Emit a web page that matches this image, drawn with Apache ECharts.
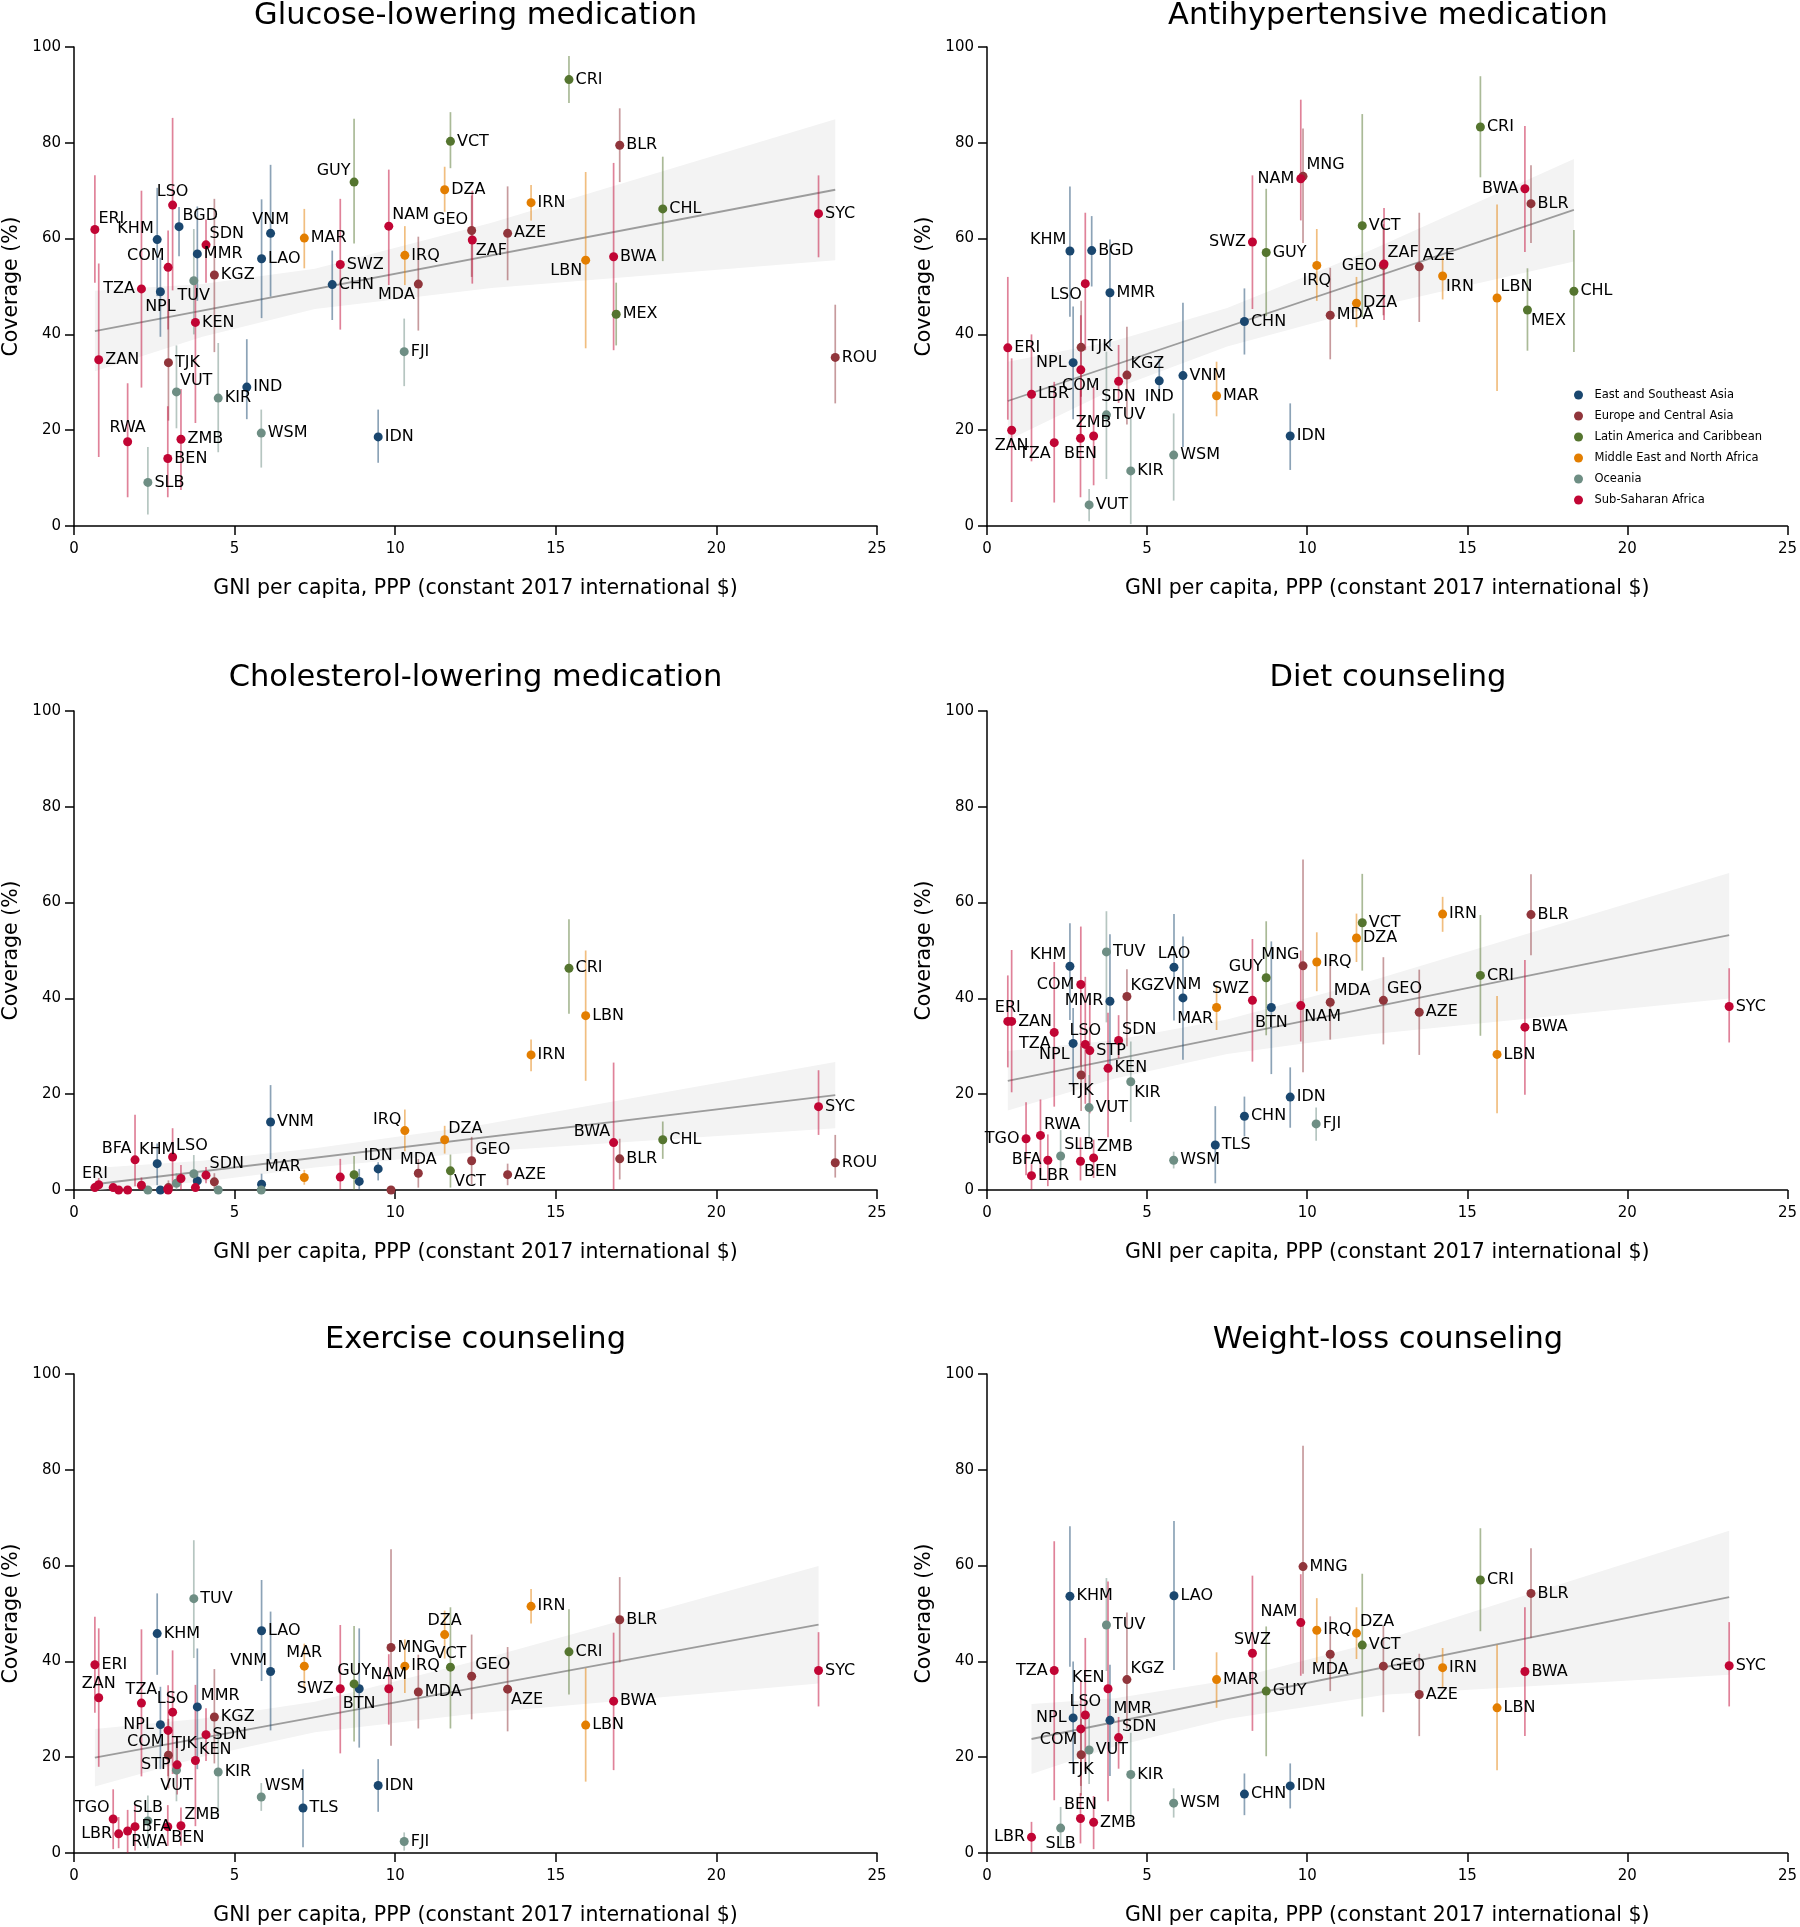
<!DOCTYPE html>
<html>
<head>
<meta charset="utf-8">
<script src="https://cdn.jsdelivr.net/npm/echarts@6/dist/echarts.min.js"></script>
<style>html,body{margin:0;padding:0;background:#fff}#c{width:1800px;height:1927px}</style>
</head>
<body>
<div id="c"></div>
<script>
// ---------- shared data ----------
const regions = ['East and Southeast Asia','Europe and Central Asia','Latin America and Caribbean','Middle East and North Africa','Oceania','Sub-Saharan Africa'];
const regionColors = ['#1a476f','#90353b','#55752f','#e37e00','#6e8e84','#c10534'];
const countryCodes = ['ERI','ZAN','TGO','LBR','RWA','BFA','TZA','SLB','KHM','NPL','BEN','COM','TJK','LSO','VUT','STP','BGD','ZMB','TUV','KEN','MMR','SDN','KGZ','KIR','IND','WSM','LAO','VNM','TLS','MAR','CHN','SWZ','GUY','BTN','IDN','NAM','MNG','FJI','IRQ','MDA','DZA','VCT','GEO','ZAF','AZE','IRN','CRI','LBN','BWA','MEX','BLR','CHL','SYC','ROU'];
const countryGni = [0.65,0.77,1.22,1.39,1.67,1.90,2.10,2.30,2.59,2.69,2.92,2.93,2.94,3.07,3.19,3.21,3.27,3.33,3.73,3.78,3.84,4.11,4.37,4.49,5.38,5.83,5.84,6.12,7.13,7.17,8.04,8.29,8.72,8.88,9.47,9.80,9.87,10.28,10.30,10.72,11.54,11.72,12.38,12.40,13.50,14.23,15.41,15.93,16.80,16.88,16.99,18.33,23.18,23.70];
const countryRegion = [5,5,5,5,5,5,5,4,0,0,5,5,1,5,4,5,0,5,4,5,0,5,1,4,0,4,0,0,0,3,0,5,2,0,0,5,1,4,3,1,3,2,1,5,1,3,2,3,5,2,1,2,5,1];
const titles = ['Glucose-lowering medication','Antihypertensive medication','Cholesterol-lowering medication','Diet counseling','Exercise counseling','Weight-loss counseling'];
const xTitle = 'GNI per capita, PPP (constant 2017 international $)';
const yTitle = 'Coverage (%)';

// ---------- panel 1: glucose-lowering ----------
const p1Codes = ['ERI','KHM','LSO','BGD','COM','TZA','NPL','MMR','SDN','KGZ','TUV','KEN','ZAN','TJK','VUT','KIR','IND','RWA','ZMB','BEN','SLB','WSM','IDN','VNM','LAO','MAR','GUY','CHN','SWZ','NAM','IRQ','MDA','FJI','DZA','GEO','ZAF','VCT','AZE','CRI','IRN','LBN','BWA','BLR','MEX','CHL','SYC','ROU'];
const p1Cov = [61.9,59.8,67.0,62.5,54.0,49.5,48.9,56.8,58.7,52.4,51.2,42.5,34.7,34.1,28.0,26.7,29.0,17.6,18.1,14.1,9.1,19.4,18.6,61.1,55.8,60.1,71.8,50.4,54.6,62.6,56.5,50.5,36.4,70.2,61.7,59.7,80.3,61.1,93.2,67.5,55.5,56.2,79.5,44.2,66.2,65.2,35.2];
const p1Lo = [50.8,48.0,49.2,56.3,41.0,28.9,39.5,47.0,50.8,36.3,40.0,21.5,14.4,22.0,20.4,15.4,22.3,6.0,7.5,6.0,2.4,12.2,13.2,47.9,43.4,53.8,59.0,43.0,41.0,50.3,50.3,40.8,29.2,65.6,52.0,50.6,74.7,51.3,88.3,63.8,37.1,36.7,71.8,37.7,55.3,56.1,25.6];
const p1Hi = [73.2,70.6,85.2,66.6,61.7,70.0,56.0,66.7,64.0,68.3,62.0,51.4,54.8,45.0,37.7,38.2,39.0,29.8,28.6,25.0,16.5,24.3,24.3,75.4,68.2,66.2,85.0,57.5,68.3,74.4,62.6,60.4,43.3,75.0,69.0,70.0,86.4,70.9,98.1,71.2,73.9,75.8,87.2,50.8,77.1,73.2,46.2];
const p1Lab = [1,11,12,1,11,9,6,3,1,3,6,3,3,3,1,3,3,12,3,3,3,3,3,12,3,3,11,3,3,1,3,7,3,3,11,5,3,3,3,3,7,3,3,3,3,3,3];
const p1LineX = [0.65,23.70], p1LineY = [40.7,70.2];
const p1BandX = [0.65,4,7.5,13,23.70], p1BandLo = [32.3,39.5,45.3,49.7,55.5], p1BandHi = [49.1,50.5,53.7,63.3,84.9];

// ---------- panel 2: antihypertensive ----------
const p2Codes = ['KHM','BGD','LSO','MMR','ERI','TJK','NPL','COM','KGZ','SDN','IND','VNM','MAR','LBR','ZAN','TZA','BEN','ZMB','TUV','KIR','WSM','VUT','IDN','CHN','SWZ','GUY','NAM','MNG','IRQ','MDA','DZA','VCT','GEO','ZAF','AZE','CRI','BWA','BLR','IRN','LBN','MEX','CHL'];
const p2Cov = [57.4,57.5,50.6,48.7,37.2,37.3,34.1,32.6,31.5,30.2,30.3,31.4,27.2,27.5,20.0,17.4,18.3,18.8,23.2,11.5,14.8,4.4,18.8,42.7,59.3,57.1,72.5,73.0,54.4,44.0,46.5,62.7,54.4,54.7,54.1,83.3,70.4,67.3,52.2,47.6,45.1,49.0];
const p2Lo = [43.7,50.0,36.7,37.4,22.2,27.0,22.3,19.0,21.2,25.7,26.0,16.5,22.9,13.5,5.0,4.9,6.0,8.5,9.8,0.4,5.3,1.0,11.7,35.8,45.3,43.8,63.8,59.1,47.0,34.8,41.5,43.6,44.0,43.0,42.6,72.8,57.2,59.1,47.3,28.2,36.6,36.3];
const p2Hi = [70.9,64.7,65.4,59.8,52.0,47.0,45.8,44.0,41.6,37.8,35.0,46.6,34.3,40.0,35.0,30.1,28.6,29.0,36.4,22.4,23.5,7.7,25.6,49.6,73.2,70.4,89.0,83.0,62.0,53.9,52.0,86.0,63.0,66.4,65.4,93.9,83.5,75.3,56.2,67.1,53.8,61.8];
const p2Lab = [11,3,7,3,3,3,9,6,1,6,6,3,3,3,6,7,6,12,3,3,3,3,3,3,9,3,9,1,6,3,3,3,9,1,1,3,9,3,5,1,5,3];
const p2LineX = [0.65,18.33], p2LineY = [26.1,66.0];
const p2BandX = [0.65,4,7.5,12,18.33], p2BandLo = [17.9,28.7,37.5,45.6,55.2], p2BandHi = [34.3,38.7,45.5,57.6,76.6];

// ---------- panel 3: cholesterol-lowering ----------
const p3Codes = ['ERI','ZAN','TGO','LBR','RWA','BFA','TZA','SLB','KHM','NPL','BEN','COM','TJK','VUT','LSO','ZMB','TUV','KEN','MMR','SDN','KGZ','KIR','LAO','WSM','VNM','MAR','SWZ','GUY','BTN','IDN','MNG','IRQ','MDA','DZA','VCT','GEO','AZE','IRN','CRI','LBN','BWA','BLR','CHL','SYC','ROU'];
const p3Cov = [0.5,1.1,0.5,0,0,6.3,1.0,0,5.5,0,0.2,0,0.5,1.4,6.9,2.4,3.4,0.5,1.9,3.1,1.7,0,1.2,0,14.2,2.6,2.7,3.2,1.8,4.4,0,12.4,3.5,10.5,4.0,6.1,3.2,28.2,46.3,36.4,9.9,6.5,10.5,17.4,5.7];
const p3Lo = [0,0,0,0,0,0.8,0,0,1.0,0,0,0,0,0,0.5,0,0.5,0,0.5,1.4,0.2,0,0.2,0,6.4,1.1,0.1,0,0,2.0,0,8.1,0.5,7.6,0.5,1.2,1.0,24.8,36.8,22.8,0,2.2,6.5,11.5,2.6];
const p3Hi = [1.5,2.5,1.2,0.5,0.5,15.7,2.6,0.3,9.7,0.3,1.0,0.5,2.0,3.5,12.9,5.2,7.3,1.5,3.5,4.8,3.5,0.3,3.4,0.3,21.9,4.2,6.5,7.1,4.4,5.8,0.3,16.8,6.5,13.4,7.4,11.1,5.5,31.4,56.5,50.0,26.6,10.7,14.3,25.0,11.5];
const p3Lab = [12,0,0,0,0,11,0,0,12,0,0,0,0,0,1,0,0,0,0,1,0,0,0,0,3,11,0,0,0,12,0,11,12,1,5,1,3,3,3,3,11,3,3,3,3];
const p3LineX = [0.65,23.70], p3LineY = [1.2,19.8];
const p3BandX = [0.65,4,7.5,12.62,23.70], p3BandLo = [0,1.7,4.7,8.0,12.9], p3BandHi = [4.6,6.1,8.7,13.5,26.7];

// ---------- panel 4: diet counseling ----------
const p4Codes = ['ERI','ZAN','KHM','COM','TUV','MMR','KGZ','LAO','VNM','TZA','NPL','LSO','STP','SDN','KEN','TJK','KIR','VUT','RWA','TGO','BFA','LBR','SLB','BEN','ZMB','WSM','TLS','CHN','IDN','FJI','MAR','SWZ','GUY','BTN','MNG','NAM','IRQ','MDA','DZA','VCT','GEO','AZE','IRN','BLR','CRI','BWA','LBN','SYC'];
const p4Cov = [35.2,35.2,46.7,42.9,49.7,39.4,40.4,46.5,40.1,32.9,30.6,30.4,29.1,31.2,25.4,24.0,22.6,17.2,11.4,10.7,6.2,3.0,7.1,6.0,6.7,6.2,9.4,15.4,19.4,13.8,38.1,39.6,44.3,38.1,46.8,38.5,47.6,39.2,52.6,55.8,39.6,37.1,57.6,57.5,44.8,34.0,28.3,38.3];
const p4Lo = [25.6,20.4,35.5,26.0,35.0,25.0,30.0,35.4,27.2,17.4,21.6,18.0,16.0,27.5,11.0,16.5,14.2,11.0,3.0,3.1,0.8,0.1,2.2,2.0,2.5,4.5,1.4,11.2,13.0,10.3,33.4,26.8,32.3,24.2,24.6,31.0,41.5,31.4,47.6,45.8,30.4,28.2,53.9,49.0,32.2,19.9,16.0,30.8];
const p4Hi = [44.8,50.1,55.7,55.0,58.2,53.4,46.1,57.6,52.9,47.6,38.0,44.5,40.0,36.5,37.0,30.0,31.0,24.0,18.9,18.3,11.6,5.4,12.5,11.0,10.5,8.0,17.5,19.5,25.6,17.2,42.8,52.4,56.1,51.9,69.0,50.0,53.8,48.5,57.7,66.0,48.6,46.0,61.2,65.9,57.4,48.0,40.5,46.3];
const p4Lab = [12,3,11,9,3,9,1,12,12,7,7,12,3,1,3,6,5,3,1,9,9,3,1,5,1,3,3,3,3,3,7,11,11,6,11,5,3,1,3,3,1,3,3,3,3,3,3,3];
const p4LineX = [0.65,23.18], p4LineY = [22.8,53.2];
const p4BandX = [0.65,4,7.5,12,23.18], p4BandLo = [16.6,23.3,28.4,32.5,40.0], p4BandHi = [29.0,31.3,35.6,43.7,66.2];

// ---------- panel 5: exercise counseling ----------
const p5Codes = ['TUV','KHM','LAO','VNM','MAR','ERI','ZAN','TZA','LSO','MMR','KGZ','NPL','COM','SDN','TJK','KEN','STP','VUT','KIR','WSM','TLS','IDN','FJI','TGO','LBR','RWA','BFA','SLB','BEN','ZMB','SWZ','GUY','BTN','MNG','NAM','IRQ','MDA','DZA','VCT','GEO','IRN','BLR','CRI','AZE','BWA','LBN','SYC'];
const p5Cov = [53.1,45.8,46.4,37.9,39.0,39.3,32.4,31.3,29.4,30.5,28.4,26.8,25.6,24.7,20.4,19.3,18.4,17.3,16.9,11.7,9.4,14.1,2.4,7.1,4.0,4.6,5.5,6.7,5.5,5.7,34.3,35.3,34.3,42.9,34.3,39.0,33.6,45.6,38.8,36.9,51.5,48.7,42.0,34.2,31.7,26.7,38.1];
const p5Lo = [40.7,37.2,35.9,25.6,34.1,29.3,18.0,16.0,16.5,17.5,18.7,17.5,16.0,19.2,13.5,5.6,12.2,10.8,7.7,8.8,1.2,8.6,0.5,0.8,1.0,0,0.5,1.0,1.5,1.5,20.8,23.3,22.0,22.4,26.8,33.4,26.0,40.6,26.0,27.9,47.9,39.8,33.1,25.4,17.3,14.9,30.6];
const p5Hi = [65.3,54.2,57.0,50.4,43.7,49.3,46.9,46.7,42.3,42.7,38.4,34.7,35.0,30.2,28.0,35.1,24.3,23.4,25.1,14.6,17.5,19.6,4.3,13.3,7.5,9.0,10.0,12.0,10.0,9.5,47.6,47.4,46.9,63.4,41.5,44.6,41.4,50.6,51.3,45.6,55.1,57.6,50.9,43.0,46.0,38.6,46.1];
const p5Lab = [3,3,3,11,12,3,12,12,12,1,3,9,7,3,1,1,9,6,3,1,3,3,3,11,9,5,3,12,5,1,9,12,6,3,12,3,3,12,12,1,3,3,3,5,3,3,3];
const p5LineX = [0.65,23.18], p5LineY = [19.9,47.7];
const p5BandX = [0.65,4,7.5,12.5,23.18], p5BandLo = [13.9,20.1,25.2,29.1,35.4], p5BandHi = [25.9,28.1,31.6,40.1,59.9];

// ---------- panel 6: weight-loss counseling ----------
const p6Codes = ['MNG','KHM','LAO','TUV','NAM','IRQ','DZA','VCT','MDA','SWZ','GEO','TZA','KGZ','KEN','MAR','GUY','LSO','NPL','MMR','COM','SDN','VUT','TJK','KIR','CHN','IDN','WSM','BEN','ZMB','SLB','LBR','CRI','BLR','IRN','AZE','BWA','LBN','SYC'];
const p6Cov = [59.8,53.6,53.7,47.6,48.1,46.5,45.9,43.4,41.5,41.7,39.0,38.1,36.2,34.3,36.2,33.8,28.8,28.2,27.7,25.9,24.1,21.5,20.5,16.4,12.3,14.0,10.4,7.2,6.4,5.2,3.3,57.0,54.2,38.7,33.1,37.9,30.3,39.1];
const p6Lo = [37.4,38.9,38.2,38.0,37.0,39.7,40.5,28.5,33.8,25.5,29.4,11.0,26.0,10.8,30.3,20.2,17.0,16.5,16.1,14.0,17.6,14.4,12.0,7.1,7.9,9.3,7.4,2.0,0.8,1.5,0.1,46.3,44.9,34.5,24.4,24.4,17.3,30.6];
const p6Hi = [85.0,68.2,69.3,57.4,58.2,53.2,51.3,58.3,49.4,57.9,47.4,65.1,50.2,56.7,41.9,47.3,44.9,40.0,39.3,36.0,28.4,29.0,28.0,25.1,16.6,18.7,13.5,12.5,11.9,9.6,6.5,67.8,63.6,42.8,41.6,51.3,43.5,48.2];
const p6Lab = [3,3,3,3,11,3,1,3,6,12,3,9,1,11,3,3,12,9,1,7,1,3,6,3,3,3,3,12,3,6,9,3,3,3,3,3,3,3];
const p6LineX = [1.39,23.18], p6LineY = [23.8,53.4];
const p6BandX = [1.39,4,7.5,12.5,23.18], p6BandLo = [16.5,22.3,28.0,33.1,37.2], p6BandHi = [31.1,32.3,36.0,44.7,67.3];

// ---------- build ----------
const panels = [
  {codes:p1Codes,cov:p1Cov,lo:p1Lo,hi:p1Hi,lab:p1Lab,lineX:p1LineX,lineY:p1LineY,bandX:p1BandX,bandLo:p1BandLo,bandHi:p1BandHi},
  {codes:p2Codes,cov:p2Cov,lo:p2Lo,hi:p2Hi,lab:p2Lab,lineX:p2LineX,lineY:p2LineY,bandX:p2BandX,bandLo:p2BandLo,bandHi:p2BandHi},
  {codes:p3Codes,cov:p3Cov,lo:p3Lo,hi:p3Hi,lab:p3Lab,lineX:p3LineX,lineY:p3LineY,bandX:p3BandX,bandLo:p3BandLo,bandHi:p3BandHi},
  {codes:p4Codes,cov:p4Cov,lo:p4Lo,hi:p4Hi,lab:p4Lab,lineX:p4LineX,lineY:p4LineY,bandX:p4BandX,bandLo:p4BandLo,bandHi:p4BandHi},
  {codes:p5Codes,cov:p5Cov,lo:p5Lo,hi:p5Hi,lab:p5Lab,lineX:p5LineX,lineY:p5LineY,bandX:p5BandX,bandLo:p5BandLo,bandHi:p5BandHi},
  {codes:p6Codes,cov:p6Cov,lo:p6Lo,hi:p6Hi,lab:p6Lab,lineX:p6LineX,lineY:p6LineY,bandX:p6BandX,bandLo:p6BandLo,bandHi:p6BandHi}
];

const FONT = 'DejaVu Sans';
const colLeft = [74, 987], colWidth = [803, 802];
const rowTop = [47, 711, 1374], plotH = 479;
const titleTop = [1, 663, 1325];

function rgba(hex, a){
  const n = parseInt(hex.slice(1),16);
  return 'rgba(' + ((n>>16)&255) + ',' + ((n>>8)&255) + ',' + (n&255) + ',' + a + ')';
}
function labelCfg(clock){
  const base = {show:true, color:'#000', fontSize:16, fontFamily:FONT};
  switch(clock){
    case 3: return Object.assign(base,{position:'right', distance:2});
    case 9: return Object.assign(base,{position:'left', distance:2});
    case 12: return Object.assign(base,{position:'top', distance:1});
    case 6: return Object.assign(base,{position:'bottom', distance:3});
    case 1: return Object.assign(base,{position:'right', distance:-1, offset:[0,-11]});
    case 11: return Object.assign(base,{position:'left', distance:-1, offset:[0,-11]});
    case 5: return Object.assign(base,{position:'right', distance:-1, offset:[0,11]});
    case 7: return Object.assign(base,{position:'left', distance:-1, offset:[0,11]});
    default: return {show:false};
  }
}

const grids = [], xAxes = [], yAxes = [], series = [], graphics = [];
panels.forEach((P, i) => {
  const col = i % 2, row = Math.floor(i / 2);
  grids.push({left:colLeft[col], top:rowTop[row], width:colWidth[col], height:plotH, containLabel:false});
  xAxes.push({type:'value', gridIndex:i, min:0, max:25, interval:5,
    axisLine:{show:true, onZero:false, lineStyle:{color:'#000', width:1.5}},
    axisTick:{show:true, length:9, lineStyle:{color:'#000', width:1.5}},
    splitLine:{show:false},
    axisLabel:{fontSize:15, color:'#000', margin:16, fontFamily:FONT},
    name:xTitle, nameLocation:'middle', nameGap:52,
    nameTextStyle:{fontSize:20.5, color:'#000', fontFamily:FONT}});
  yAxes.push({type:'value', gridIndex:i, min:0, max:100, interval:20,
    axisLine:{show:true, onZero:false, lineStyle:{color:'#000', width:1.5}},
    axisTick:{show:true, length:9, lineStyle:{color:'#000', width:1.5}},
    splitLine:{show:false},
    axisLabel:{fontSize:15, color:'#000', margin:13, fontFamily:FONT},
    name:yTitle, nameLocation:'middle', nameGap:52,
    nameTextStyle:{fontSize:20.5, color:'#000', fontFamily:FONT}});

  // CI band of the fit
  series.push({type:'custom', xAxisIndex:i, yAxisIndex:i, silent:true, z:1,
    data:[[P.bandX[0], P.bandLo[0]]],
    renderItem:(params, api) => {
      const top = P.bandX.map((x,k) => api.coord([x, P.bandHi[k]]));
      const bot = P.bandX.map((x,k) => api.coord([x, P.bandLo[k]])).reverse();
      return {type:'polygon', shape:{points: top.concat(bot)}, style:{fill:'#f3f3f3'}};
    }});
  // fitted line
  series.push({type:'line', xAxisIndex:i, yAxisIndex:i, silent:true, z:2, symbol:'none',
    data: P.lineX.map((x,k) => [x, P.lineY[k]]),
    lineStyle:{color:'#9c9c9c', width:1.8}});
  // error bars
  const gni = P.codes.map(c => countryGni[countryCodes.indexOf(c)]);
  const reg = P.codes.map(c => countryRegion[countryCodes.indexOf(c)]);
  series.push({type:'custom', xAxisIndex:i, yAxisIndex:i, silent:true, z:3,
    data: P.codes.map((c,k) => [gni[k], P.lo[k], P.hi[k], reg[k]]),
    encode:{x:0, y:[1,2]},
    renderItem:(params, api) => {
      const a = api.coord([api.value(0), api.value(1)]);
      const b = api.coord([api.value(0), api.value(2)]);
      return {type:'line', shape:{x1:a[0], y1:a[1], x2:b[0], y2:b[1]},
        style:{stroke: rgba(regionColors[api.value(3)], 0.5), lineWidth:1.7}};
    }});
  // points per region
  regions.forEach((rName, r) => {
    const items = [];
    P.codes.forEach((c,k) => {
      if (reg[k] !== r) return;
      items.push({value:[gni[k], P.cov[k]], name:c, label: Object.assign(labelCfg(P.lab[k]), {formatter: c})});
    });
    series.push({type:'scatter', name:rName, xAxisIndex:i, yAxisIndex:i, z:4,
      symbol:'circle', symbolSize:9, itemStyle:{color:regionColors[r], opacity:1},
      emphasis:{disabled:true}, data:items});
  });
  // panel title
  graphics.push({type:'text', x: colLeft[col] + colWidth[col]/2, y: titleTop[row],
    style:{text:titles[i], fontSize:30.5, fontFamily:FONT, fill:'#000',
      textAlign:'center', textVerticalAlign:'top', align:'center', verticalAlign:'top'}});
});

const chart = echarts.init(document.getElementById('c'), null, {renderer:'canvas', width:1800, height:1927});
chart.setOption({
  animation:false,
  backgroundColor:'#fff',
  textStyle:{fontFamily:FONT},
  grid:grids, xAxis:xAxes, yAxis:yAxes, series:series,
  legend:{show:true, orient:'vertical', left:1569, top:384, itemWidth:22, itemHeight:9, itemGap:9,
    icon:'circle', selectedMode:false, data:regions,
    textStyle:{fontSize:11.5, color:'#000', fontFamily:FONT, lineHeight:10}},
  graphic: graphics
});
</script>
</body>
</html>
